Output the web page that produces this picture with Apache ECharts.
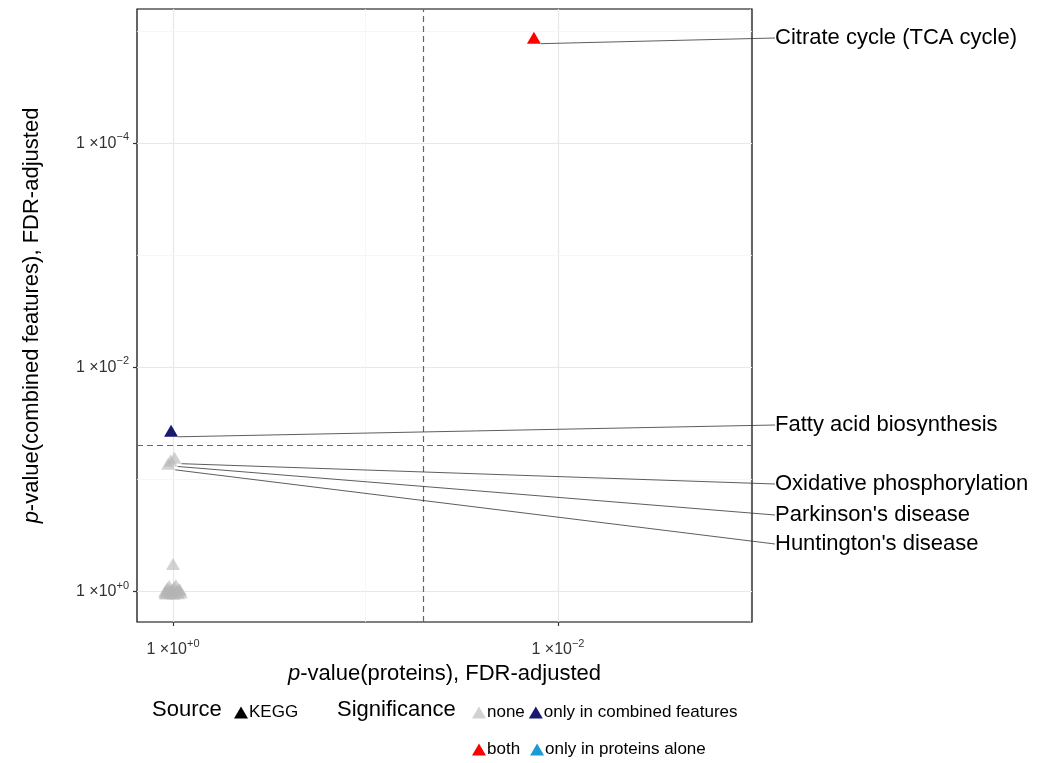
<!DOCTYPE html>
<html><head><meta charset="utf-8">
<script src="https://cdn.jsdelivr.net/npm/echarts@6/dist/echarts.min.js"></script>
<style>html,body{margin:0;padding:0;background:#fff}#c{width:1043px;height:763px}</style>
</head><body><div id="c"></div>
<script>
// Axis values are -log10(p-value, FDR-adjusted); axes run from p = 1 outward.
const xTicks = [0, 2];
const yTicks = [0, 2, 4];
const xMinor = [1, 3];
const yMinor = [1, 3, 5];
const threshold = 1.30103; // p = 0.05

// Labelled pathways
const labeledNames = ['Citrate cycle (TCA cycle)', 'Fatty acid biosynthesis', 'Oxidative phosphorylation', "Parkinson's disease", "Huntington's disease"];
const labeledSig = ['both', 'only in combined features', 'none', 'none', 'none'];
const labeledX = [1.875, -0.01, 0.008, -0.012, -0.025];
const labeledY = [4.94, 1.43, 1.19, 1.165, 1.135];
const labelPosY = [38, 425, 484, 515, 544]; // label layout (px)

// Unlabelled, non-significant pathways
const otherX = [0.0, -0.04, -0.03, -0.02, -0.008, 0.006, 0.018, 0.03, 0.04, -0.035, -0.012, 0.004, 0.015, 0.027, -0.022, 0.0, 0.036, -0.04];
const otherY = [0.24, 0.0, 0.025, 0.045, 0.012, 0.035, 0.0, 0.018, -0.012, -0.022, -0.018, -0.024, 0.05, -0.02, 0.006, 0.0, 0.01, -0.015];

const sigLevels = ['none', 'only in combined features', 'both', 'only in proteins alone'];
const sigColors = ['rgba(180,180,180,0.6)', '#191970', '#ff0000', '#1a9bd4'];

const FONT = 'Liberation Sans';
const tickFmt = v => '{b|1 ×10}{s|' + (v === 0 ? '+0' : '−' + Math.round(v)) + '}';
const richTick = {
  b: {fontSize: 16, color: '#333', fontFamily: FONT, verticalAlign: 'bottom', lineHeight: 18},
  s: {fontSize: 11, color: '#333', fontFamily: FONT, verticalAlign: 'bottom', lineHeight: 12, padding: [0, 0, 9, 0]}
};

const layoutMap = {};
labeledNames.forEach((n, i) => layoutMap[n] = labelPosY[i]);

const series = [];
// grid lines
series.push({
  type: 'line', data: [], z: 1, silent: true,
  markLine: {
    silent: true, symbol: 'none', label: {show: false}, animation: false,
    data: [
      ...xTicks.map(v => ({xAxis: v, lineStyle: {color: '#e8e8e8', width: 1.2, type: 'solid'}})),
      ...yTicks.map(v => ({yAxis: v, lineStyle: {color: '#e8e8e8', width: 1.2, type: 'solid'}})),
      ...xMinor.map(v => ({xAxis: v, lineStyle: {color: '#f4f4f4', width: 0.8, type: 'solid'}})),
      ...yMinor.map(v => ({yAxis: v, lineStyle: {color: '#f4f4f4', width: 0.8, type: 'solid'}}))
    ]
  }
});
// threshold dashed lines
series.push({
  type: 'line', data: [], z: 2, silent: true,
  markLine: {
    silent: true, symbol: 'none', label: {show: false}, animation: false,
    lineStyle: {color: '#666', width: 1.2, type: [6, 4]},
    data: [{xAxis: threshold}, {yAxis: threshold}]
  }
});

sigLevels.forEach((lvl, si) => {
  const data = [];
  if (lvl === 'none') {
    otherX.forEach((x, i) => data.push({value: [x, otherY[i]]}));
  }
  labeledNames.forEach((n, i) => {
    if (labeledSig[i] === lvl) data.push({value: [labeledX[i], labeledY[i]], name: n, label: {show: true}, labelLine: {show: true}});
  });
  series.push({
    name: lvl, type: 'scatter', symbol: 'triangle', symbolSize: [14, 12], z: 5,
    itemStyle: {color: sigColors[si], opacity: 1},
    data: data,
    label: {show: false, formatter: '{b}', fontSize: 22, color: '#000', opacity: 1, fontFamily: FONT},
    labelLine: {show: false, lineStyle: {color: '#333', width: 0.8, opacity: 1}},
    labelLayout: p => {
      const y = layoutMap[p.text];
      if (y === undefined) return {};
      return {x: 775, y: y, align: 'left', verticalAlign: 'middle'};
    }
  });
});
series.push({name: 'KEGG', type: 'scatter', symbol: 'triangle', data: [], itemStyle: {color: '#000', opacity: 1}});

const legendText = {fontSize: 17, color: '#000', fontFamily: FONT, padding: [0, 0, 0, -4]};
const nameStyle = {fontSize: 22, color: '#000', fontFamily: FONT, rich: {i: {fontStyle: 'italic', fontSize: 22, color: '#000', fontFamily: FONT}}};
const option = {
  animation: false,
  backgroundColor: '#fff',
  grid: {left: 137, top: 9, width: 615, height: 613, show: true, borderColor: '#000', borderWidth: 1.2, containLabel: false},
  xAxis: {
    type: 'value', min: -0.187, max: 3.008,
    name: '{i|p}-value(proteins), FDR-adjusted', nameLocation: 'middle', nameGap: 36,
    nameTextStyle: nameStyle,
    axisLine: {show: false, onZero: false},
    axisTick: {show: true, customValues: xTicks, length: 4, lineStyle: {color: '#333', width: 1.2}},
    axisLabel: {customValues: xTicks, formatter: tickFmt, rich: richTick, margin: 18},
    splitLine: {show: false}
  },
  yAxis: {
    type: 'value', min: -0.277, max: 5.196,
    name: '{i|p}-value(combined features), FDR-adjusted', nameLocation: 'middle', nameGap: 94,
    nameTextStyle: nameStyle,
    axisLine: {show: false, onZero: false},
    axisTick: {show: true, customValues: yTicks, length: 4, lineStyle: {color: '#333', width: 1.2}},
    axisLabel: {customValues: yTicks, formatter: tickFmt, rich: richTick, margin: 8},
    splitLine: {show: false}
  },
  legend: [
    {data: [{name: 'KEGG', icon: 'triangle'}], left: 229, top: 699, itemWidth: 14, itemHeight: 12, itemGap: 4, textStyle: legendText, selectedMode: false},
    {data: [{name: 'none', icon: 'triangle'}, {name: 'only in combined features', icon: 'triangle'}], left: 467, top: 699, itemWidth: 14, itemHeight: 12, itemGap: 4, textStyle: legendText, selectedMode: false},
    {data: [{name: 'both', icon: 'triangle'}, {name: 'only in proteins alone', icon: 'triangle'}], left: 467, top: 736, itemWidth: 14, itemHeight: 12, itemGap: 10, textStyle: legendText, selectedMode: false}
  ],
  graphic: [
    {type: 'text', left: 152, top: 699, style: {text: 'Source', fontSize: 22, fill: '#000', fontFamily: FONT}},
    {type: 'text', left: 337, top: 699, style: {text: 'Significance', fontSize: 22, fill: '#000', fontFamily: FONT}}
  ],
  series: series
};
const chart = echarts.init(document.getElementById('c'), null, {renderer: 'canvas'});
chart.setOption(option);
</script>
</body></html>
